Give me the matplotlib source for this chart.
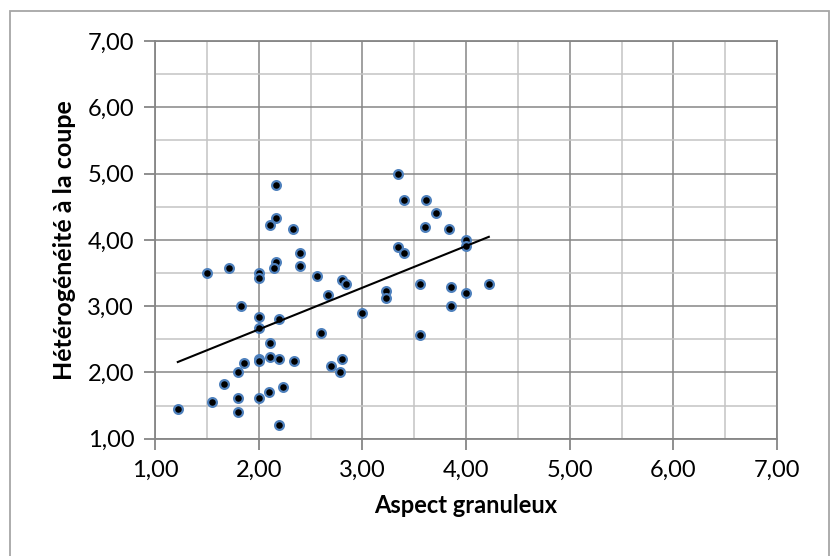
import numpy as np
import matplotlib.pyplot as plt
from matplotlib.patches import Rectangle
from matplotlib.ticker import MultipleLocator, FuncFormatter

# aspect granuleux / hétérogénéité à la coupe, one pair per sample
aspect = [
    2.17, 2.17, 2.11, 2.33, 2.40, 2.40, 2.17, 2.15, 1.50, 1.71,
    2.00, 2.00, 2.56, 2.67, 1.83, 2.00, 2.20, 2.00, 2.60, 2.11,
    2.00, 2.00, 2.11, 2.20, 2.34, 1.86, 1.80, 2.70, 2.80, 2.78,
    1.67, 2.23, 2.10, 1.80, 1.55, 2.00, 1.22, 1.80, 2.20, 2.80,
    2.84, 3.00, 3.34, 3.40, 3.61, 3.71, 3.60, 3.84, 4.00, 4.00,
    3.34, 3.40, 3.56, 3.86, 4.00, 4.22, 3.23, 3.23, 3.86, 3.56,
]
heterogeneite = [
    4.83, 4.33, 4.22, 4.17, 3.80, 3.60, 3.67, 3.57, 3.50, 3.57,
    3.50, 3.43, 3.45, 3.17, 3.00, 2.83, 2.80, 2.67, 2.60, 2.45,
    2.20, 2.17, 2.23, 2.20, 2.17, 2.14, 2.00, 2.10, 2.20, 2.00,
    1.83, 1.78, 1.70, 1.61, 1.55, 1.61, 1.45, 1.40, 1.20, 3.40,
    3.33, 2.90, 5.00, 4.60, 4.60, 4.40, 4.20, 4.17, 4.00, 3.90,
    3.89, 3.80, 3.33, 3.29, 3.20, 3.33, 3.23, 3.12, 3.00, 2.56,
]

x = np.array(aspect)
y = np.array(heterogeneite)

plt.rcParams['font.family'] = ['Lato', 'DejaVu Sans']

fig = plt.figure(figsize=(8.34, 5.56), dpi=100)
ax = fig.add_axes([155 / 834, 1 - 438.7 / 556, 622 / 834, 397.7 / 556])

# chart frame
fig.patches.append(Rectangle((9.5 / 834, -0.01), 819.5 / 834, 1 - 11 / 556 + 0.01,
                             transform=fig.transFigure, fill=False,
                             edgecolor='#a6a6a6', linewidth=1.3))

ax.set_xlim(1, 7)
ax.set_ylim(1, 7)
ax.xaxis.set_major_locator(MultipleLocator(1))
ax.yaxis.set_major_locator(MultipleLocator(1))
ax.xaxis.set_minor_locator(MultipleLocator(0.5))
ax.yaxis.set_minor_locator(MultipleLocator(0.5))
fmt = FuncFormatter(lambda v, p: f"{v:.2f}".replace('.', ','))
ax.xaxis.set_major_formatter(fmt)
ax.yaxis.set_major_formatter(fmt)

ax.grid(which='major', color='#868686', linewidth=1.1)
ax.grid(which='minor', color='#c4c4c4', linewidth=1.1)
ax.set_axisbelow(True)
for s in ax.spines.values():
    s.set_color('#868686')
    s.set_linewidth(1.3)

ax.tick_params(which='major', length=8, width=1.3, color='#868686',
               labelsize=17, pad=7)
ax.tick_params(which='minor', length=0)

ax.scatter(x, y, s=40, c='black', edgecolors='#4f81bd', linewidths=1.6, zorder=3)

# linear trend over the data range
a, b = np.polyfit(x, y, 1)
xs = np.array([x.min(), x.max()])
ax.plot(xs, a * xs + b, color='black', linewidth=1.5, zorder=4)

ax.set_xlabel('Aspect granuleux', fontsize=17, fontweight='bold', labelpad=10)
ax.set_ylabel('Hétérogénéité à la coupe', fontsize=18, fontweight='bold', labelpad=8)

fig.savefig('out.png', dpi=100)
